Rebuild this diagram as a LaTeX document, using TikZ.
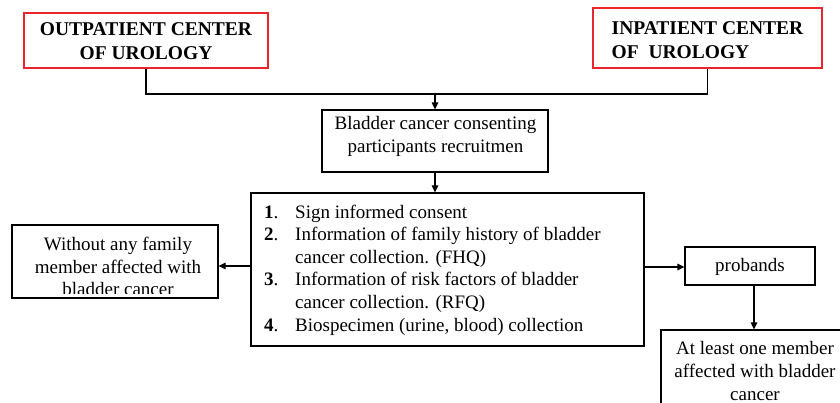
\documentclass[tikz,border=0pt]{standalone}
\usepackage{fontspec}
\setmainfont{Liberation Serif}
\newfontfamily\tnr{Liberation Serif}
\usetikzlibrary{arrows.meta}
\definecolor{boxred}{RGB}{232,38,44}
\tikzset{
  box/.style={draw=black, line width=1.2pt, inner sep=0pt},
  redbox/.style={draw=boxred, line width=1.5pt, inner sep=0pt},
  head/.style={font=\tnr\bfseries\fontsize{19.5}{24}\selectfont, inner sep=0pt},
  txt/.style={font=\tnr\fontsize{19}{22.6}\selectfont, inner sep=0pt},
  conn/.style={line width=1.2pt},
  arr/.style={conn, -{Triangle[length=7pt,width=6.5pt]}}
}
\begin{document}
\begin{tikzpicture}[x=1pt,y=-1pt]
\useasboundingbox (0,0) rectangle (840,403);
\clip (0,0) rectangle (840,403);
% boxes
\node[redbox, minimum width=244pt, minimum height=55pt] (out) at (146,40.5) {};
\node[redbox, minimum width=229pt, minimum height=60pt] (in) at (707.5,38) {};
\node[box, minimum width=226pt, minimum height=62pt] (blad) at (435,141) {};
\node[box, minimum width=393pt, minimum height=153pt] (main) at (447.5,269.5) {};
\node[box, minimum width=206pt, minimum height=73pt] (left) at (115,261.5) {};
\node[box, minimum width=130pt, minimum height=38pt] (prob) at (750,266) {};
\node[box, minimum width=186pt, minimum height=90pt] (bot) at (754,375) {};
% texts
\node[head, align=center] (outT) at (146,41.5) {OUTPATIENT CENTER\\OF UROLOGY};
\node[head, align=left] (inT) at (707.5,40) {INPATIENT CENTER\\OF\ \ UROLOGY};
\node[txt, align=center] (bladT) at (435.5,136.5) {Bladder cancer consenting\\participants recruitmen};
\node[txt, align=left, anchor=north west] (listT) at (264,204.5) {%
\makebox[31pt][l]{\textbf{1}.}Sign informed consent\\
\makebox[31pt][l]{\textbf{2}.}Information of family history of bladder\\
\hspace*{31pt}cancer collection. (FHQ)\\
\makebox[31pt][l]{\textbf{3}.}Information of risk factors of bladder\\
\hspace*{31pt}cancer collection. (RFQ)\\
\makebox[31pt][l]{\textbf{4}.}Biospecimen (urine, blood) collection};
\begin{scope}
\clip (13,226) rectangle (217,293.5);
\node[txt, align=center] (leftT) at (118,266.5) {Without any family\\member affected with\\bladder cancer};
\end{scope}
\node[txt] (probT) at (750,266.5) {probands};
\node[txt, align=center] (botT) at (755,371) {At least one member\\affected with bladder\\cancer};
% connectors
\coordinate (j) at (435,94);
\draw[conn] (out.south) |- (j);
\draw[conn] (in.south) |- (j);
\draw[arr] (j) -- (blad.north -| j);
\draw[arr] (blad.south -| j) -- (main.north -| j);
\draw[arr] (main.west |- 0,266) -- (left.east |- 0,266);
\draw[arr] (main.east |- 0,267) -- (prob.west |- 0,267);
\draw[arr] (754,0 |- prob.south) -- (754,0 |- bot.north);
\end{tikzpicture}
\end{document}
